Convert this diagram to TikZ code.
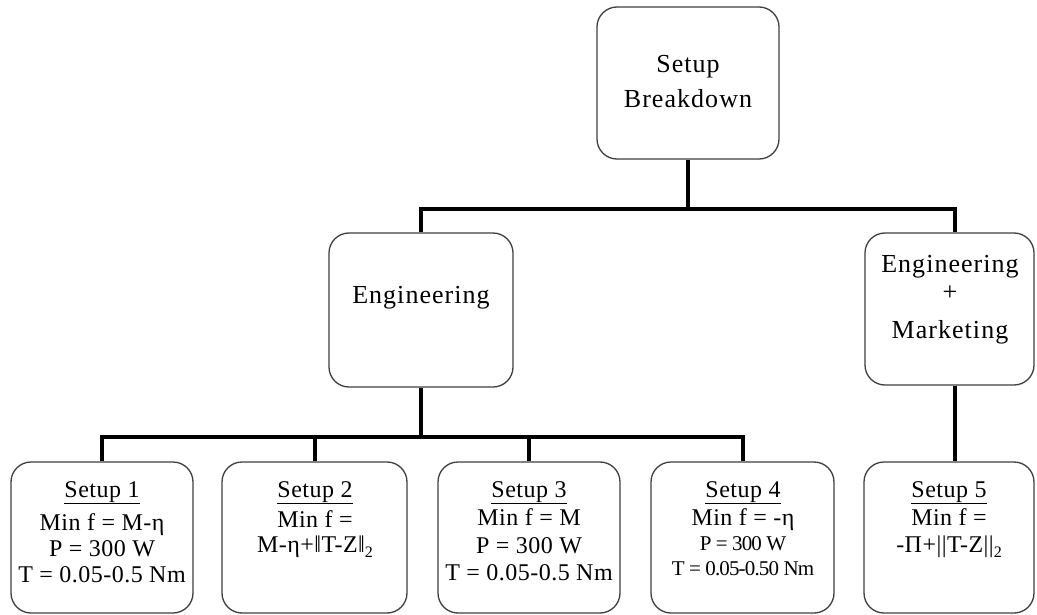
\documentclass[tikz,border=0pt]{standalone}
\usepackage{fontspec}
\setmainfont{Liberation Serif}
\newcommand{\subtwo}{\raisebox{-5pt}{\fontsize{16}{16}\selectfont 2}}
\begin{document}
\begin{tikzpicture}[x=1pt,y=-1pt,
  box/.style={draw=black!75, line width=1.3pt, rounded corners=20pt, fill=white, inner sep=0pt},
  conn/.style={line width=4pt, line join=miter},
  big/.style={anchor=base, inner sep=0pt, font={\fontsize{26}{30}\selectfont\addfontfeatures{LetterSpace=4}}},
  sm/.style={anchor=base, inner sep=0pt, font={\fontsize{24}{26}\selectfont\addfontfeatures{LetterSpace=2}}},
  tiny/.style={anchor=base, inner sep=0pt, font={\fontsize{21}{23}\selectfont\addfontfeatures{LetterSpace=-4}}}]
\useasboundingbox (0,0) rectangle (1037,615);
\fill[white] (0,0) rectangle (1037,615);
% boxes
\node[box, minimum width=182pt, minimum height=152pt] (top) at (688,83) {};
\node[box, minimum width=184pt, minimum height=154pt] (eng) at (421,310) {};
\node[box, minimum width=169pt, minimum height=152pt] (em) at (949.5,309) {};
\node[box, minimum width=182pt, minimum height=151pt] (s1) at (102,537.5) {};
\node[box, minimum width=185pt, minimum height=151pt] (s2) at (314.5,537.5) {};
\node[box, minimum width=182pt, minimum height=151pt] (s3) at (529,537.5) {};
\node[box, minimum width=183pt, minimum height=151pt] (s4) at (742.5,537.5) {};
\node[box, minimum width=170pt, minimum height=151pt] (s5) at (949,537.5) {};
% connectors
\coordinate (bar1) at (688,209);
\coordinate (bar2) at (421,437);
\draw[conn] (top.south) -- (bar1);
\draw[conn] (eng.north) |- (bar1) -| ([xshift=5.5pt]em.north);
\draw[conn] (eng.south) -- (bar2);
\draw[conn] (s1.north) |- (bar2) -| (s4.north);
\draw[conn] (s2.north) -- (s2.north |- bar2);
\draw[conn] (s3.north) -- (s3.north |- bar2);
\draw[conn] ([xshift=5.5pt]em.south) -- ([xshift=6pt]s5.north);
% texts
\node[big] (t1) at (688,73) {Setup};
\node[big] (t2) at (688,108) {Breakdown};
\node[big] (e1) at (421,303) {Engineering};
\node[big] (m1) at (950,272) {Engineering};
\node[big] (m2) at (950,300) {+};
\node[big] (m3) at (950,338) {Marketing};
% setup 1
\node[sm] (a1) at (102,497) {\underline{Setup 1}};
\node[sm] (a2) at (102,530) {Min f = M-η};
\node[sm] (a3) at (102,556) {P = 300 W};
\node[sm] (a4) at (102,582) {T = 0.05-0.5 Nm};
% setup 2
\node[sm] (b1) at (315,497) {\underline{Setup 2}};
\node[sm] (b2) at (315,527) {Min f =};
\node[sm] (b3) at (315,552) {M-η+‖T-Z‖\subtwo};
% setup 3
\node[sm] (c1) at (529,497) {\underline{Setup 3}};
\node[sm] (c2) at (529,525) {Min f = M};
\node[sm] (c3) at (529,553) {P = 300 W};
\node[sm] (c4) at (529,580) {T = 0.05-0.5 Nm};
% setup 4
\node[sm] (d1) at (743,497) {\underline{Setup 4}};
\node[sm] (d2) at (743,525) {Min f = -η};
\node[tiny] (d3) at (743,550) {P = 300 W};
\node[tiny] (d4) at (743,575) {T = 0.05-0.50 Nm};
% setup 5
\node[sm] (f1) at (949,497) {\underline{Setup 5}};
\node[sm] (f2) at (949,525) {Min f =};
\node[sm] (f3) at (949,552) {-Π+||T-Z||\subtwo};
\end{tikzpicture}
\end{document}
